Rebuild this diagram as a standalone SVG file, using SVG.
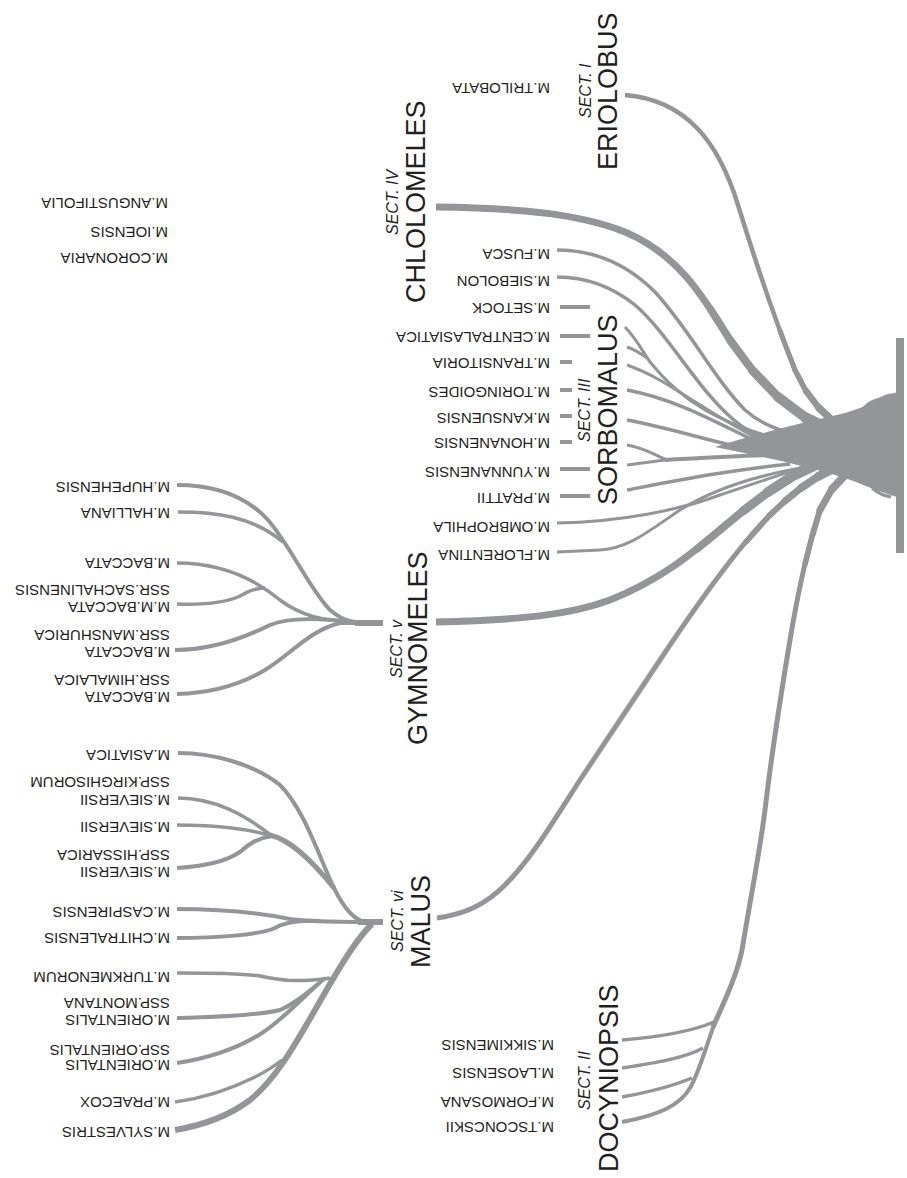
<svg xmlns="http://www.w3.org/2000/svg" width="907" height="1178" viewBox="0 0 907 1178">
<style>
.b{fill:none;stroke:#939598;stroke-linecap:butt;stroke-linejoin:round}
.r{fill:none;stroke:#939598;stroke-linecap:round}
.f{fill:#939598}
.sp{font-family:"Liberation Sans",Arial,sans-serif;font-size:15px;fill:#231f20}
.sn{font-family:"Liberation Sans",Arial,sans-serif;font-size:27px;fill:#231f20}
.st{font-family:"Liberation Sans",Arial,sans-serif;font-size:16px;font-style:italic;fill:#231f20}
</style>
<rect width="907" height="1178" fill="#ffffff"/>
<g id="connectors">
  <!-- trunk -->
  <rect class="f" x="896" y="338" width="8" height="215"/>
  <path class="f" d="M897,392 C880,400 865,407 845,413 C815,420 770,430 715,447 C760,456 795,464 825,472 C855,480 878,492 897,497 Z"/>
  <path class="b" stroke-width="3" d="M864,408 C870,401 882,397 894,398"/>
  <path class="b" stroke-width="3" d="M878,401 C884,396 890,394 896,395"/>
  <path class="b" stroke-width="3" d="M872,488 C878,493 884,496 891,497"/>
  <!-- ERIOLOBUS -->
  <path class="b" stroke-width="4.5" d="M625,95 C685,100 718,140 738,205 C755,260 775,320 795,370 C808,400 825,420 855,435"/>
  <path class="r" stroke-width="5" d="M780,331 L795,370"/>
  <path class="r" stroke-width="5.5" d="M795,370 L806,391"/>
  <path class="r" stroke-width="6.5" d="M806,391 L819,408"/>
  <path class="r" stroke-width="7.5" d="M819,408 L835,423"/>
  <path class="r" stroke-width="8.5" d="M835,423 L855,435"/>
  <path class="r" stroke-width="9.5" d="M855,435 L870,441"/>
  <!-- CHLOLOMELES -->
  <path class="b" stroke-width="7" d="M436,207 C520,208 580,214 625,232 C680,255 705,300 730,340 C760,385 790,415 840,435"/>
  <path class="r" stroke-width="7.5" d="M711,310 L730,340"/>
  <path class="r" stroke-width="8" d="M730,340 L753,371"/>
  <path class="r" stroke-width="9" d="M753,371 L778,397"/>
  <path class="r" stroke-width="10" d="M778,397 L806,418"/>
  <path class="r" stroke-width="11" d="M806,418 L840,435"/>
  <path class="r" stroke-width="12" d="M840,435 L862,442"/>
  <!-- SORBOMALUS -->
  <path class="b" stroke-width="3.5" d="M557,250 C590,250 625,262 655,292 C690,330 715,380 745,410 C765,428 790,435 830,440"/>
  <path class="b" stroke-width="3.5" d="M557,277 C585,277 610,285 635,305 C670,335 700,395 740,425 C760,440 790,445 820,447"/>
  <path class="b" stroke-width="4" d="M560,307 H590 M560,336 H590 M560,362 H572 M560,390 H572 M560,416 H572 M560,442 H572 M560,469 H590 M560,496 H590"/>
  <path class="b" stroke-width="3" d="M625,327 C635,337 642,350 650,362 C680,400 720,425 790,442"/>
  <path class="b" stroke-width="3" d="M627,347 C633,349 640,353 647,358"/>
  <path class="b" stroke-width="3" d="M627,365 C670,380 700,410 770,445"/>
  <path class="b" stroke-width="3.5" d="M627,390 C680,400 720,425 770,448"/>
  <path class="b" stroke-width="3.5" d="M627,420 C680,430 720,445 765,452"/>
  <path class="b" stroke-width="3" d="M627,445 C645,448 655,455 667,460"/>
  <path class="b" stroke-width="3" d="M627,465 C645,463 655,461 667,460"/>
  <path class="b" stroke-width="4" d="M665,460 C700,458 730,456 770,455"/>
  <path class="b" stroke-width="3.5" d="M627,490 C680,480 730,470 790,464"/>
  <path class="b" stroke-width="3" d="M557,523 C620,522 680,510 720,495 C760,482 790,470 830,462"/>
  <path class="b" stroke-width="3" d="M557,552 L600,550 C630,548 650,530 680,510 C720,485 770,472 820,465"/>
  <!-- GYMNOMELES -->
  <path class="b" stroke-width="7" d="M436,622 C520,620 570,615 610,600 C660,580 690,555 720,530 C750,505 780,478 830,458"/>
  <path class="r" stroke-width="7.5" d="M697,549 L720,530"/>
  <path class="r" stroke-width="8" d="M720,530 L743,511"/>
  <path class="r" stroke-width="9" d="M743,511 L768,492"/>
  <path class="r" stroke-width="10" d="M768,492 L796,474"/>
  <path class="r" stroke-width="11" d="M796,474 L830,458"/>
  <path class="r" stroke-width="12" d="M830,458 L852,452"/>
  <path class="b" stroke-width="6" d="M355,623 H383"/>
  <path class="b" stroke-width="4" d="M177,485 C215,485 245,495 268,520 C290,545 310,590 330,610 C342,620 350,622 362,623"/>
  <path class="b" stroke-width="3.5" d="M178,512 C215,512 252,516 283,542"/>
  <path class="b" stroke-width="3.5" d="M177,563 C215,563 250,575 280,600 C300,615 320,621 362,623"/>
  <path class="b" stroke-width="3.5" d="M177,604 C205,605 225,603 240,596 C248,591 255,588 265,588"/>
  <path class="b" stroke-width="4" d="M175,650 C210,650 240,640 270,625 C290,617 320,618 362,623"/>
  <path class="b" stroke-width="4" d="M177,694 C210,693 240,685 265,670 C290,655 310,630 340,623 L362,623"/>
  <!-- MALUS -->
  <path class="b" stroke-width="5" d="M437,918 C465,914 485,905 505,885 C530,860 550,827 580,780 L660,660 C700,600 740,545 770,515 C790,495 810,480 840,465"/>
  <path class="r" stroke-width="5.5" d="M746,542 L770,515"/>
  <path class="r" stroke-width="6" d="M770,515 L785,501"/>
  <path class="r" stroke-width="7" d="M785,501 L801,488"/>
  <path class="r" stroke-width="8" d="M801,488 L819,476"/>
  <path class="r" stroke-width="9" d="M819,476 L840,465"/>
  <path class="r" stroke-width="10" d="M840,465 L860,458"/>
  <path class="b" stroke-width="6" d="M358,922 H383"/>
  <path class="b" stroke-width="4" d="M178,753 C215,753 255,765 280,785 C305,810 320,860 335,890 C345,910 355,920 365,922"/>
  <path class="b" stroke-width="3.5" d="M178,798 C215,798 245,815 272,836"/>
  <path class="b" stroke-width="3.5" d="M177,825 C215,825 245,828 272,836"/>
  <path class="b" stroke-width="4" d="M177,868 C205,866 225,862 240,852 C250,843 258,838 272,836"/>
  <path class="b" stroke-width="5" d="M270,835 C290,840 310,858 334,888"/>
  <path class="b" stroke-width="4" d="M177,909 C215,909 255,912 290,919 C310,922 340,922 365,922"/>
  <path class="b" stroke-width="4" d="M177,938 C215,938 260,935 275,928 C285,922 300,920 320,921"/>
  <path class="b" stroke-width="6" d="M175,1130 C205,1125 230,1115 250,1100 C275,1080 295,1045 315,1010 C335,975 355,940 372,924"/>
  <path class="b" stroke-width="3.5" d="M175,1102 C205,1098 235,1087 255,1077 C265,1072 272,1068 282,1060"/>
  <path class="b" stroke-width="4" d="M177,1063 C210,1058 240,1047 262,1033 C285,1018 305,995 325,978"/>
  <path class="b" stroke-width="4" d="M177,1018 C220,1017 260,1015 280,1010 C292,1005 302,997 318,984"/>
  <path class="b" stroke-width="3.5" d="M177,973 C210,973 240,973 260,976 C280,980 295,983 330,978"/>
  <!-- DOCYNIOPSIS -->
  <path class="b" stroke-width="5" d="M713,1027 C725,1000 737,975 742,950 C752,890 760,850 765,810 C772,750 780,700 790,640 C800,580 810,540 820,510 C826,495 835,482 850,470"/>
  <path class="r" stroke-width="5.5" d="M805,564 L812.5,535"/>
  <path class="r" stroke-width="6" d="M812.5,535 L820,510"/>
  <path class="r" stroke-width="7" d="M820,510 L832,489"/>
  <path class="r" stroke-width="8" d="M832,489 L850,470"/>
  <path class="r" stroke-width="9" d="M850,470 L865,462"/>
  <path class="b" stroke-width="4" d="M714,1025 C705,1050 698,1075 690,1088 C680,1105 660,1115 622,1122"/>
  <path class="b" stroke-width="3.5" d="M622,1040 C660,1037 690,1032 714,1022"/>
  <path class="b" stroke-width="3.5" d="M622,1068 C655,1063 685,1058 703,1048"/>
  <path class="b" stroke-width="3.5" d="M622,1097 C650,1092 675,1085 692,1078"/>
</g>
<g id="sect-eriolobus">
  <text class="sn" x="617" y="170" transform="rotate(-90 617 170)">ERIOLOBUS</text>
  <text class="st" x="591" y="118" transform="rotate(-90 591 118)">SECT. I</text>
  <text class="sp" x="550" y="83" transform="rotate(180 550 83)">M.TRILOBATA</text>
</g>
<g id="sect-chlolomeles">
  <text class="sn" x="425" y="303" transform="rotate(-90 425 303)">CHLOLOMELES</text>
  <text class="st" x="398" y="235" transform="rotate(-90 398 235)">SECT. IV</text>
  <text class="sp" x="168" y="198" transform="rotate(180 168 198)">M.ANGUSTIFOLIA</text>
  <text class="sp" x="168" y="227" transform="rotate(180 168 227)">M.IOENSIS</text>
  <text class="sp" x="168" y="253" transform="rotate(180 168 253)">M.CORONARIA</text>
</g>
<g id="sect-sorbomalus">
  <text class="sn" x="617" y="505" transform="rotate(-90 617 505)">SORBOMALUS</text>
  <text class="st" x="590" y="442" transform="rotate(-90 590 442)">SECT. III</text>
  <text class="sp" x="550" y="249" transform="rotate(180 550 249)">M.FUSCA</text>
  <text class="sp" x="550" y="276" transform="rotate(180 550 276)">M.SIEBOLON</text>
  <text class="sp" x="550" y="303" transform="rotate(180 550 303)">M.SETOCK</text>
  <text class="sp" x="550" y="332" transform="rotate(180 550 332)">M.CENTRALASIATICA</text>
  <text class="sp" x="550" y="358" transform="rotate(180 550 358)">M.TRANSITORIA</text>
  <text class="sp" x="550" y="387" transform="rotate(180 550 387)">M.TORINGOIDES</text>
  <text class="sp" x="550" y="413" transform="rotate(180 550 413)">M.KANSUENSIS</text>
  <text class="sp" x="550" y="438" transform="rotate(180 550 438)">M.HONANENSIS</text>
  <text class="sp" x="550" y="467" transform="rotate(180 550 467)">M.YUNNANENSIS</text>
  <text class="sp" x="550" y="493" transform="rotate(180 550 493)">M.PRATTII</text>
  <text class="sp" x="550" y="522" transform="rotate(180 550 522)">M.OMBROPHILA</text>
  <text class="sp" x="550" y="550" transform="rotate(180 550 550)">M.FLORENTINA</text>
</g>
<g id="sect-gymnomeles">
  <text class="sn" x="427" y="745" transform="rotate(-90 427 745)">GYMNOMELES</text>
  <text class="st" x="402" y="678" transform="rotate(-90 402 678)">SECT. v</text>
  <text class="sp" x="170" y="482" transform="rotate(180 170 482)">M.HUPEHENSIS</text>
  <text class="sp" x="170" y="508" transform="rotate(180 170 508)">M.HALLIANA</text>
  <text class="sp" x="170" y="558" transform="rotate(180 170 558)">M.BACCATA</text>
  <text class="sp" x="170" y="585" transform="rotate(180 170 585)">SSR.SACHALINENSIS</text>
  <text class="sp" x="170" y="602" transform="rotate(180 170 602)">M.M.BACCATA</text>
  <text class="sp" x="170" y="630" transform="rotate(180 170 630)">SSR.MANSHURICA</text>
  <text class="sp" x="170" y="647" transform="rotate(180 170 647)">M.BACCATA</text>
  <text class="sp" x="170" y="675" transform="rotate(180 170 675)">SSR.HIMALAICA</text>
  <text class="sp" x="170" y="692" transform="rotate(180 170 692)">M.BACCATA</text>
</g>
<g id="sect-malus">
  <text class="sn" x="430" y="968" transform="rotate(-90 430 968)">MALUS</text>
  <text class="st" x="403" y="952" transform="rotate(-90 403 952)">SECT. vi</text>
  <text class="sp" x="170" y="750" transform="rotate(180 170 750)">M.ASIATICA</text>
  <text class="sp" x="170" y="777" transform="rotate(180 170 777)">SSP.KIRGHISORUM</text>
  <text class="sp" x="170" y="795" transform="rotate(180 170 795)">M.SIEVERSII</text>
  <text class="sp" x="170" y="822" transform="rotate(180 170 822)">M.SIEVERSII</text>
  <text class="sp" x="170" y="850" transform="rotate(180 170 850)">SSP.HISSARICA</text>
  <text class="sp" x="170" y="867" transform="rotate(180 170 867)">M.SIEVERSII</text>
  <text class="sp" x="170" y="907" transform="rotate(180 170 907)">M.CASPIRENSIS</text>
  <text class="sp" x="170" y="933" transform="rotate(180 170 933)">M.CHITRALENSIS</text>
  <text class="sp" x="170" y="972" transform="rotate(180 170 972)">M.TURKMENORUM</text>
  <text class="sp" x="170" y="998" transform="rotate(180 170 998)">SSP.MONTANA</text>
  <text class="sp" x="170" y="1015" transform="rotate(180 170 1015)">M.ORIENTALIS</text>
  <text class="sp" x="170" y="1045" transform="rotate(180 170 1045)">SSP.ORIENTALIS</text>
  <text class="sp" x="170" y="1060" transform="rotate(180 170 1060)">M.ORIENTALIS</text>
  <text class="sp" x="170" y="1097" transform="rotate(180 170 1097)">M.PRAECOX</text>
  <text class="sp" x="170" y="1127" transform="rotate(180 170 1127)">M.SYLVESTRIS</text>
</g>
<g id="sect-docyniopsis">
  <text class="sn" x="618" y="1172" transform="rotate(-90 618 1172)">DOCYNIOPSIS</text>
  <text class="st" x="590" y="1110" transform="rotate(-90 590 1110)">SECT. II</text>
  <text class="sp" x="554" y="1040" transform="rotate(180 554 1040)">M.SIKKIMENSIS</text>
  <text class="sp" x="554" y="1068" transform="rotate(180 554 1068)">M.LAOSENSIS</text>
  <text class="sp" x="554" y="1097" transform="rotate(180 554 1097)">M.FORMOSANA</text>
  <text class="sp" x="554" y="1122" transform="rotate(180 554 1122)">M.TSCONCSKII</text>
</g>
</svg>
